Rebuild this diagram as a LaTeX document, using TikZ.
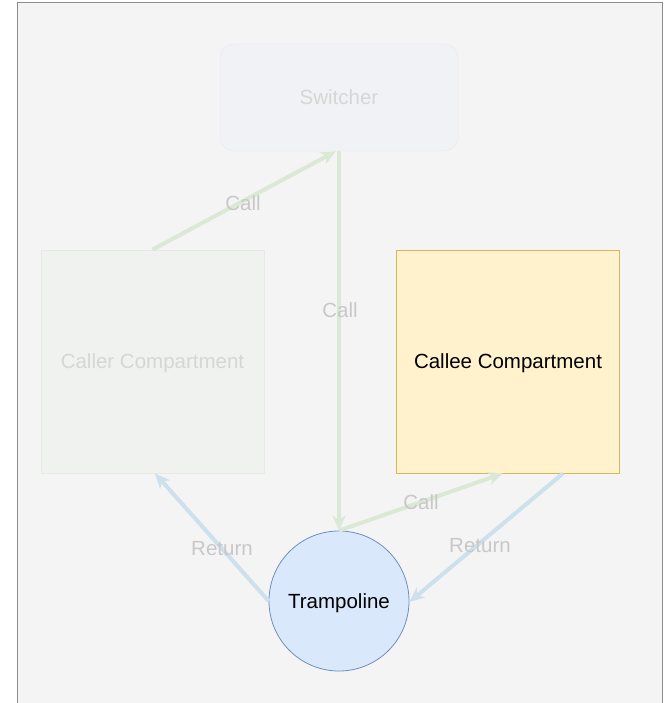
\documentclass[tikz,border=0pt]{standalone}
\usepackage{fontspec}
\setmainfont{Liberation Sans}
\usetikzlibrary{arrows.meta,calc}

\definecolor{panelbg}{HTML}{F4F4F4}
\definecolor{panelline}{HTML}{8C8C8C}
\definecolor{swfill}{HTML}{F1F2F5}
\definecolor{swline}{HTML}{E8EAEE}
\definecolor{crfill}{HTML}{F0F2EF}
\definecolor{crline}{HTML}{E6E9E4}
\definecolor{fadetext}{HTML}{D6D6D6}
\definecolor{ceefill}{HTML}{FFF2CC}
\definecolor{ceeline}{HTML}{D6B656}
\definecolor{trfill}{HTML}{DAE8FC}
\definecolor{trline}{HTML}{6C8EBF}
\definecolor{callgreen}{HTML}{DBE8D5}
\definecolor{retblue}{HTML}{CEE0EC}
\definecolor{lbltext}{HTML}{C8C8C8}

\tikzset{
  lbl/.style={font=\fontsize{20.5}{24}\selectfont, inner sep=0pt, text depth=0pt},
  boxnode/.style={lbl, minimum width=223pt, minimum height=223pt, line width=0.8pt},
  callarrow/.style={draw=callgreen, line width=4pt,
    -{Stealth[length=15pt,width=13pt,inset=4.5pt]}},
  retarrow/.style={draw=retblue, line width=4pt,
    -{Stealth[length=15pt,width=13pt,inset=4.5pt]}},
  edgelbl/.style={lbl, text=lbltext},
}

\begin{document}
\begin{tikzpicture}[x=1pt,y=-1pt]
  \useasboundingbox (0,0) rectangle (667,703);
  \fill[white] (0,0) rectangle (667,703);

  % grey canvas with its frame
  \fill[panelbg] (17,2) rectangle (662,703);
  \draw[panelline, line width=0.8pt] (17,703) -- (17,2) -- (662,2) -- (662,703);

  % nodes
  \node[lbl, draw=swline, fill=swfill, text=fadetext, rounded corners=14pt,
        minimum width=238pt, minimum height=107pt] (sw) at (339,97.5) {Switcher};
  \node[boxnode, draw=crline, fill=crfill, text=fadetext] (caller) at (152.5,361.5) {Caller Compartment};
  \node[boxnode, draw=ceeline, fill=ceefill, text=black] (callee) at (508,361.5) {Callee Compartment};
  \node[lbl, circle, draw=trline, fill=trfill, line width=0.8pt, text=black,
        minimum size=140pt] (tr) at (339,601) {Trampoline};

  % calls (green)
  \draw[callarrow] (caller.north) -- ([xshift=-3pt]sw.south);
  \draw[callarrow] (sw.south) -- (tr.north);
  \draw[callarrow] (tr.north) -- ([xshift=-5pt]callee.south);

  % returns (blue)
  \draw[retarrow] (tr.west) -- ([xshift=2.5pt]caller.south);
  \draw[retarrow] ([xshift=55pt]callee.south) -- ([yshift=-1pt]tr.east);

  % edge labels
  \node[edgelbl] (l1) at (243,203) {Call};
  \node[edgelbl] (l2) at (340,310) {Call};
  \node[edgelbl] (l3) at (421,502) {Call};
  \node[edgelbl] (l4) at (222,548) {Return};
  \node[edgelbl] (l5) at (480,545) {Return};
\end{tikzpicture}
\end{document}
